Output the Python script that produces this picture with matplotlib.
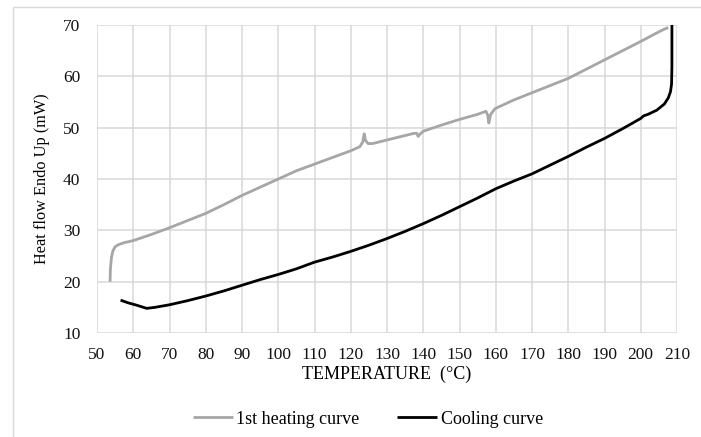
import matplotlib
matplotlib.use("Agg")
import matplotlib.pyplot as plt
from matplotlib.patches import Rectangle

# DSC traces: temperature (°C) vs heat flow (mW)
heat_temp = [53.6, 53.7, 54.0, 54.4, 55.0, 55.9, 57.5, 60, 65, 70, 75, 80, 85, 90, 95,
             100, 105, 110, 115, 120, 122.5, 123.3, 123.7, 124.1, 124.8, 126, 130, 134,
             137.5, 138.2, 138.6, 139.2, 140, 145, 150, 155, 157.3, 157.8, 158.1, 158.6,
             159.8, 165, 170, 175, 180, 185, 190, 195, 200, 204, 206.5, 207.6]
heat_flow = [20.0, 22.5, 24.8, 26.0, 26.8, 27.2, 27.6, 28.0, 29.2, 30.5, 31.9, 33.3, 35.0,
             36.8, 38.4, 40.0, 41.6, 42.9, 44.2, 45.5, 46.3, 47.2, 48.8, 47.5, 46.9, 46.9,
             47.6, 48.3, 48.9, 48.9, 48.3, 48.8, 49.3, 50.5, 51.6, 52.6, 53.2, 52.4, 50.9,
             52.6, 53.7, 55.4, 56.8, 58.2, 59.6, 61.4, 63.2, 65.0, 66.8, 68.3, 69.2, 69.5]

cool_temp = [208.6, 208.6, 208.5, 208.2, 207.6, 206.5, 204.4, 202, 200.8, 200, 195, 190,
             185, 180, 175, 170, 165, 160, 155, 150, 145, 140, 135, 130, 125, 120, 115,
             110, 105, 100, 95, 90, 85, 80, 75, 70, 66, 63.7, 61, 58.5, 56.5]
cool_flow = [70.0, 62.0, 58.5, 57.0, 55.8, 54.6, 53.4, 52.6, 52.3, 51.8, 49.8, 47.9, 46.2,
             44.4, 42.7, 41.0, 39.6, 38.1, 36.3, 34.6, 32.9, 31.3, 29.8, 28.4, 27.1, 25.9,
             24.8, 23.8, 22.5, 21.4, 20.4, 19.3, 18.2, 17.2, 16.3, 15.5, 15.0, 14.8, 15.4,
             15.9, 16.4]

x_ticks = list(range(50, 211, 10))
y_ticks = list(range(10, 71, 10))

plt.rcParams['font.family'] = ['Liberation Serif', 'DejaVu Serif']

W, H = 701, 437
fig = plt.figure(figsize=(W / 100, H / 100), dpi=100)

# chart-area border
fig.patches.append(Rectangle((13 / W, -0.1), 1.2, 1 - 7 / H + 0.1, transform=fig.transFigure,
                             fill=False, edgecolor='#d9d9d9', linewidth=1.0))

ax = fig.add_axes([97 / W, 1 - 333 / H, (677 - 97) / W, (333 - 25) / H])
ax.set_xlim(50, 210)
ax.set_ylim(10, 70)
ax.set_xticks(x_ticks)
ax.set_yticks(y_ticks)
ax.grid(True, color='#d9d9d9', linewidth=1.1)
ax.set_axisbelow(True)
for s in ax.spines.values():
    s.set_visible(False)
ax.tick_params(length=0, labelsize=12.5, colors='#111111')
ax.tick_params(axis='y', pad=12)
ax.tick_params(axis='x', pad=10)

ax.plot(heat_temp, heat_flow, color='#a6a6a6', linewidth=2.0, label='1st heating curve',
        clip_on=False, solid_capstyle='butt')
ax.plot(cool_temp, cool_flow, color='black', linewidth=2.0, label='Cooling curve',
        clip_on=False, solid_capstyle='butt')

ax.set_xlabel('TEMPERATURE  (°C)', fontsize=13, labelpad=2)
ax.set_ylabel('Heat flow Endo Up (mW)', fontsize=11.7, labelpad=9)

fig.legend(loc='center', bbox_to_anchor=(368 / W, 1 - 419 / H), ncol=2, frameon=False,
           fontsize=13, handlelength=2.2, handletextpad=0.2, columnspacing=2.1)

fig.savefig('out.png', dpi=100)
